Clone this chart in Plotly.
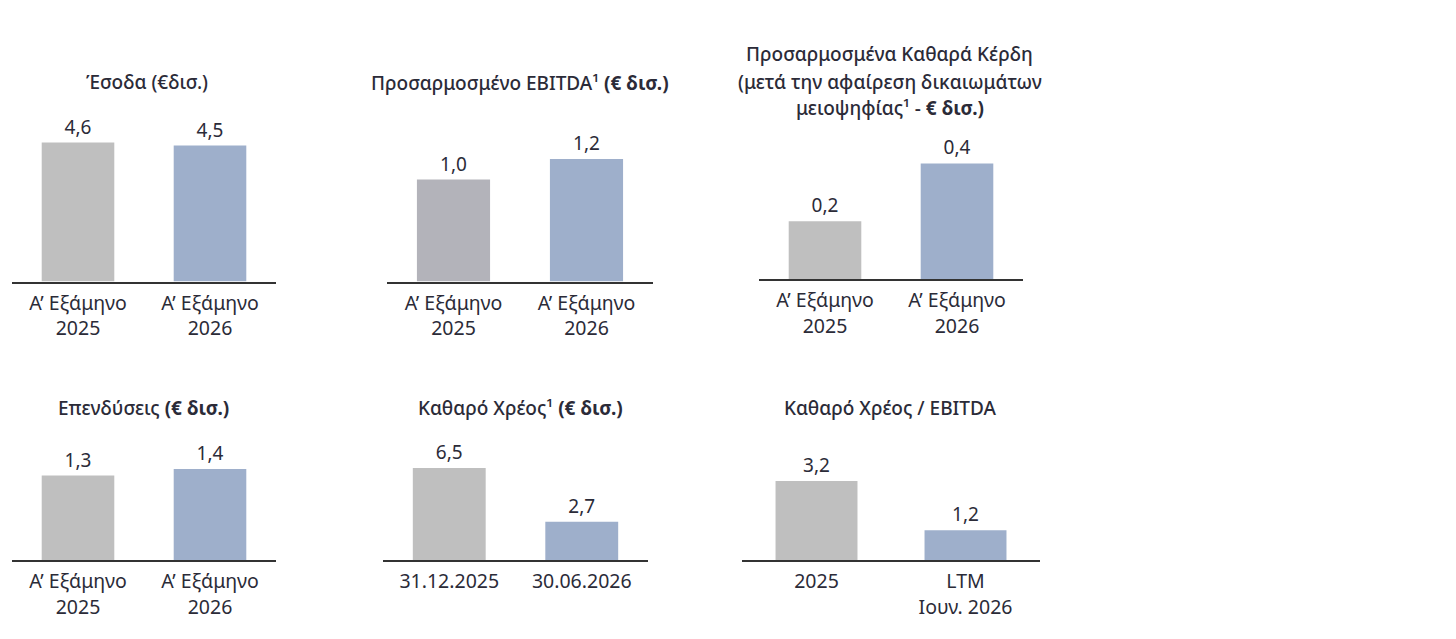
import plotly.graph_objects as go

W, H = 1456, 639
OFF = 8  # the page body keeps its default 8px margin

half_year_cats = ["Α’ Εξάμηνο<br>2025", "Α’ Εξάμηνο<br>2026"]
revenue_vals = [4.6, 4.5]
ebitda_vals = [1.0, 1.2]
net_profit_vals = [0.2, 0.4]
capex_vals = [1.3, 1.4]
debt_cats = ["31.12.2025", "30.06.2026"]
debt_vals = [6.5, 2.7]
leverage_cats = ["2025", "LTM<br>Ιουν. 2026"]
leverage_vals = [3.2, 1.2]

revenue_title = ["Έσοδα (€δισ.)"]
ebitda_title = ["Προσαρμοσμένο EBITDA¹ <b>(€ δισ.)</b>"]
net_profit_title = [
    "Προσαρμοσμένα Καθαρά Κέρδη",
    "(μετά την αφαίρεση δικαιωμάτων",
    "μειοψηφίας¹ - <b>€ δισ.)</b>",
]
capex_title = ["Επενδύσεις <b>(€ δισ.)</b>"]
debt_title = ["Καθαρό Χρέος¹ <b>(€ δισ.)</b>"]
leverage_title = ["Καθαρό Χρέος / EBITDA"]

GREY = "#bfbfbf"
GREY2 = "#b3b3ba"
BLUE = "#9eafcb"
INK = "#2b2b38"
FONT = "Noto Sans"

# x0, x1 of the axis line, baseline y, px per unit, title centre, title line ys
panels = [
    (half_year_cats, revenue_vals, [GREY, BLUE], revenue_title, 12, 276, 281.5, 30.2, 147, [82]),
    (half_year_cats, ebitda_vals, [GREY2, BLUE], ebitda_title, 387, 653, 281.5, 102.0, 520, [83]),
    (half_year_cats, net_profit_vals, [GREY, BLUE], net_profit_title, 759, 1023, 279.0, 289.0, 890, [54, 82, 108]),
    (half_year_cats, capex_vals, [GREY, BLUE], capex_title, 12, 276, 560.0, 65.0, 143, [408]),
    (debt_cats, debt_vals, [GREY, BLUE], debt_title, 383, 648, 560.0, 14.15, 520, [408]),
    (leverage_cats, leverage_vals, [GREY, BLUE], leverage_title, 742, 1040, 560.0, 24.7, 890, [408]),
]

fig = go.Figure()
layout = dict(
    width=W,
    height=H,
    margin=dict(l=0, r=0, t=0, b=0),
    plot_bgcolor="white",
    paper_bgcolor="white",
    showlegend=False,
    separators=",.",
    font=dict(family=FONT, color=INK),
    annotations=[],
)

for i, (cats, vals, colors, title, x0, x1, base, ppu, tx, tys) in enumerate(panels):
    n = "" if i == 0 else str(i + 1)
    x0, x1, base, tx = x0 - OFF, x1 - OFF, base - OFF, tx - OFF
    top = base - 170
    fig.add_trace(
        go.Bar(
            x=cats,
            y=vals,
            marker=dict(color=colors, line=dict(width=0)),
            width=0.55,
            texttemplate="%{y:.1f}",
            textposition="outside",
            textfont=dict(size=19, color=INK, family=FONT),
            cliponaxis=False,
            xaxis="x" + n,
            yaxis="y" + n,
            hoverinfo="skip",
        )
    )
    layout["xaxis" + n] = dict(
        domain=[x0 / W, x1 / W],
        anchor="y" + n,
        showline=True,
        linecolor="#333333",
        linewidth=1.5,
        showgrid=False,
        ticks="",
        ticklabelstandoff=3,
        tickfont=dict(size=19.5, color=INK, family=FONT),
        fixedrange=True,
    )
    layout["yaxis" + n] = dict(
        domain=[1 - base / H, 1 - top / H],
        anchor="x" + n,
        range=[0, (base - top) / ppu],
        visible=False,
        fixedrange=True,
    )
    for line, ty in zip(title, tys):
        layout["annotations"].append(
            dict(
                text=line,
                x=tx / W,
                y=1 - (ty - OFF) / H,
                xref="paper",
                yref="paper",
                xanchor="center",
                yanchor="middle",
                showarrow=False,
                font=dict(size=19, color=INK, family=FONT, weight=500),
            )
        )

fig.update_layout(**layout)
fig.write_html("out.html")
